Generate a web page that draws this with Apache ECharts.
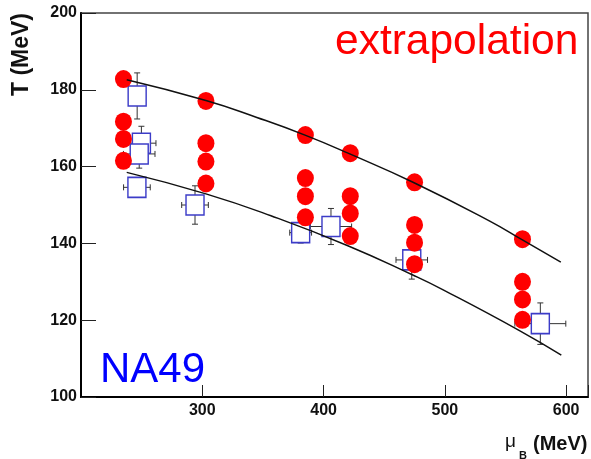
<!DOCTYPE html>
<html>
<head>
  <meta charset="utf-8">
  <title>T vs muB</title>
  <script src="https://cdn.jsdelivr.net/npm/echarts@6/dist/echarts.min.js"></script>
  <style>
  html, body { margin: 0; padding: 0; background: #fff; }
  #main { width: 591px; height: 459px; }
  </style>
</head>
<body>
  <div id="main"></div>
  <script type="text/javascript">
  // red circles: one column per muB value, four T values each
  var circleMu = [235, 303, 385, 422, 475, 564];
  var circleT = [
    [182.8, 171.7, 167.2, 161.5],
    [177.1, 166.1, 161.3, 155.6],
    [168.2, 157.0, 152.3, 146.8],
    [163.5, 152.3, 147.8, 141.9],
    [155.9, 144.8, 140.2, 134.6],
    [141.1, 130.0, 125.4, 120.1]
  ];

  // NA49 open squares with errors
  var sqMu    = [246.3, 249.8, 248.0, 246.1, 294.0, 381.1, 406.1, 472.7, 578.7];
  var sqT     = [178.4, 166.1, 163.3, 154.6, 150.0, 142.8, 144.4, 135.7, 119.1];
  var sqMuErr = [4, 12, 13, 11, 11, 9, 17, 13, 21];
  var sqTErr  = [6, 4.4, 3.7, 2, 5, 2.7, 4.7, 5, 5.4];

  // the two curves
  var upperCurve = [[237.7, 182.6], [303, 177.2], [345, 172.8], [384.7, 168.2], [421.6, 163.3],
                    [474.6, 155.8], [537, 145.8], [565, 140.7], [595.6, 135.1]];
  var lowerCurve = [[237.7, 158.5], [303, 152.9], [356.6, 147.2], [420, 139.4], [474, 131.7],
                    [498.6, 127.9], [561.5, 117.3], [596, 110.9]];

  var xTicks = [300, 400, 500, 600];
  var yTicks = [100, 120, 140, 160, 180, 200];

  var circles = [];
  circleMu.forEach(function (mu, i) {
    circleT[i].forEach(function (t) { circles.push([mu, t]); });
  });
  var squares = sqMu.map(function (mu, i) { return [mu, sqT[i], sqMuErr[i], sqTErr[i]]; });

  var font = 'Liberation Sans, Arial, sans-serif';

  var myChart = echarts.init(document.getElementById('main'));
  var option = {
    animation: false,
    backgroundColor: '#fff',
    grid: {
      left: 81, top: 13, right: 0, bottom: 62,
      show: true, borderColor: '#444', borderWidth: 1.5
    },
    xAxis: {
      type: 'value', min: 200, max: 618, interval: 100,
      axisLine: { lineStyle: { color: '#000', width: 2 } },
      axisTick: { inside: true, length: 12, lineStyle: { color: '#222', width: 1 } },
      axisLabel: {
        margin: 6, showMinLabel: false, color: '#111',
        fontFamily: font, fontWeight: 'bold', fontSize: 16,
        formatter: function (v) { return xTicks.indexOf(v) >= 0 ? String(v) : ''; }
      },
      splitLine: { show: false }
    },
    yAxis: {
      type: 'value', min: 100, max: 200, interval: 20,
      axisLine: { lineStyle: { color: '#000', width: 2 } },
      axisTick: { inside: true, length: 15, lineStyle: { color: '#222', width: 1 } },
      axisLabel: {
        margin: 4, color: '#111',
        fontFamily: font, fontWeight: 'bold', fontSize: 16,
        formatter: function (v) { return yTicks.indexOf(v) >= 0 ? String(v) : ''; }
      },
      splitLine: { show: false }
    },
    graphic: [
      { type: 'text', x: 22, y: 13, rotation: Math.PI / 2,
        style: { text: 'T (MeV)', font: 'bold 23px ' + font, fill: '#111', align: 'right', verticalAlign: 'middle' } },
      { type: 'text', x: 505, y: 432,
        style: { text: 'μ', font: '19px ' + font, fill: '#111', verticalAlign: 'top' } },
      { type: 'text', x: 519, y: 450,
        style: { text: 'B', font: 'bold 11px ' + font, fill: '#111', verticalAlign: 'top' } },
      { type: 'text', x: 533, y: 434,
        style: { text: '(MeV)', font: 'bold 20px ' + font, fill: '#111', verticalAlign: 'top' } },
      { type: 'text', x: 335, y: 21,
        style: { text: 'extrapolation', font: '42.5px ' + font, fill: '#ff0000', verticalAlign: 'top' } },
      { type: 'text', x: 100, y: 349,
        style: { text: 'NA49', font: '42px ' + font, fill: '#0000ff', verticalAlign: 'top' } }
    ],
    series: [
      {
        type: 'custom',
        z: 1,
        data: squares,
        encode: { x: 0, y: 1 },
        renderItem: function (params, api) {
          var mu = api.value(0), t = api.value(1), dm = api.value(2), dt = api.value(3);
          var l = api.coord([mu - dm, t]), r = api.coord([mu + dm, t]);
          var up = api.coord([mu, t + dt]), dn = api.coord([mu, t - dt]);
          var c = 3;
          var st = { stroke: '#333', lineWidth: 1 };
          return {
            type: 'group',
            children: [
              { type: 'line', shape: { x1: l[0], y1: l[1], x2: r[0], y2: r[1] }, style: st },
              { type: 'line', shape: { x1: l[0], y1: l[1] - c, x2: l[0], y2: l[1] + c }, style: st },
              { type: 'line', shape: { x1: r[0], y1: r[1] - c, x2: r[0], y2: r[1] + c }, style: st },
              { type: 'line', shape: { x1: up[0], y1: up[1], x2: dn[0], y2: dn[1] }, style: st },
              { type: 'line', shape: { x1: up[0] - c, y1: up[1], x2: up[0] + c, y2: up[1] }, style: st },
              { type: 'line', shape: { x1: dn[0] - c, y1: dn[1], x2: dn[0] + c, y2: dn[1] }, style: st }
            ]
          };
        }
      },
      {
        type: 'scatter',
        z: 2,
        symbol: 'rect',
        symbolSize: [18, 20],
        data: squares.map(function (s) { return [s[0], s[1]]; }),
        itemStyle: { color: '#fff', borderColor: '#3c3cc8', borderWidth: 1.5, opacity: 1 }
      },
      {
        type: 'scatter',
        z: 3,
        symbol: 'circle',
        symbolSize: [17, 18],
        data: circles,
        itemStyle: { color: '#ff0000', opacity: 1 }
      },
      {
        type: 'line', z: 4, smooth: true, showSymbol: false,
        data: upperCurve,
        lineStyle: { color: '#111', width: 1.5 }
      },
      {
        type: 'line', z: 4, smooth: true, showSymbol: false,
        data: lowerCurve,
        lineStyle: { color: '#111', width: 1.5 }
      }
    ]
  };
  myChart.setOption(option);
  window.onresize = myChart.resize;
  </script>
</body>
</html>
